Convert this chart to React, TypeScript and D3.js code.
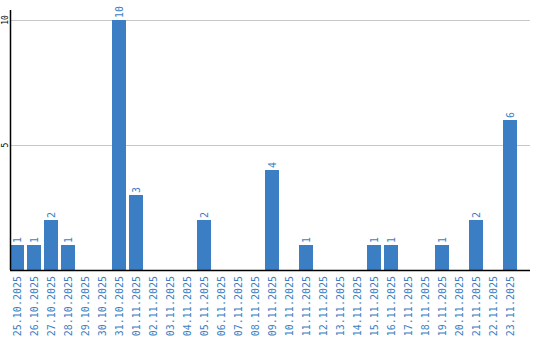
import React from "react";
import * as d3 from "d3";

const categories = [
  "25.10.2025", "26.10.2025", "27.10.2025", "28.10.2025", "29.10.2025", "30.10.2025",
  "31.10.2025", "01.11.2025", "02.11.2025", "03.11.2025", "04.11.2025", "05.11.2025",
  "06.11.2025", "07.11.2025", "08.11.2025", "09.11.2025", "10.11.2025", "11.11.2025",
  "12.11.2025", "13.11.2025", "14.11.2025", "15.11.2025", "16.11.2025", "17.11.2025",
  "18.11.2025", "19.11.2025", "20.11.2025", "21.11.2025", "22.11.2025", "23.11.2025",
];
const values = [1, 1, 2, 1, 0, 0, 10, 3, 0, 0, 0, 2, 0, 0, 0, 4, 0, 1, 0, 0, 0, 1, 1, 0, 0, 1, 0, 2, 0, 6];
const yTicks = [5, 10];

const W = 540;
const H = 340;
const left = 10;
const right = 530;
const top = 10;
const base = 270;
const blue = "#3b7ec3";
const font = "'DejaVu Sans Mono', monospace";

export default function App() {
  const x = d3.scaleBand<string>().domain(categories).range([left, 517]).paddingInner(3 / 17).paddingOuter(0);
  const y = d3.scaleLinear().domain([0, 10]).range([base, 20]);
  return (
    <svg width={W} height={H} style={{ position: "absolute", left: 0, top: 0, background: "#fff" }}>
      {yTicks.map((t) => (
        <g key={t}>
          <line x1={left} x2={right} y1={y(t) + 0.5} y2={y(t) + 0.5} stroke="#c8c8c8" strokeWidth={1} />
          <text
            transform={`translate(5.5,${y(t)}) rotate(-90)`}
            textAnchor="middle"
            dy="0.35em"
            fontFamily={font}
            fontSize={8}
            fill="#000"
          >
            {t}
          </text>
        </g>
      ))}
      {categories.map((c, i) => {
        const v = values[i];
        const bx = x(c)!;
        const cx = bx + x.bandwidth() / 2;
        return (
          <g key={c}>
            {v > 0 && (
              <>
                <rect x={bx} y={y(v)} width={x.bandwidth()} height={base - y(v)} fill={blue} />
                <text
                  transform={`translate(${cx},${y(v) - 2}) rotate(-90)`}
                  dy="0.35em"
                  fontFamily={font}
                  fontSize={10}
                  fill={blue}
                >
                  {v}
                </text>
              </>
            )}
            <text
              transform={`translate(${cx},276) rotate(-90)`}
              textAnchor="end"
              dy="0.35em"
              fontFamily={font}
              fontSize={10}
              fill={blue}
            >
              {c}
            </text>
          </g>
        );
      })}
      <line x1={left + 0.5} x2={left + 0.5} y1={top} y2={base} stroke="#000" strokeWidth={1.5} />
      <line x1={left} x2={right} y1={base + 0.5} y2={base + 0.5} stroke="#000" strokeWidth={1.5} />
    </svg>
  );
}
